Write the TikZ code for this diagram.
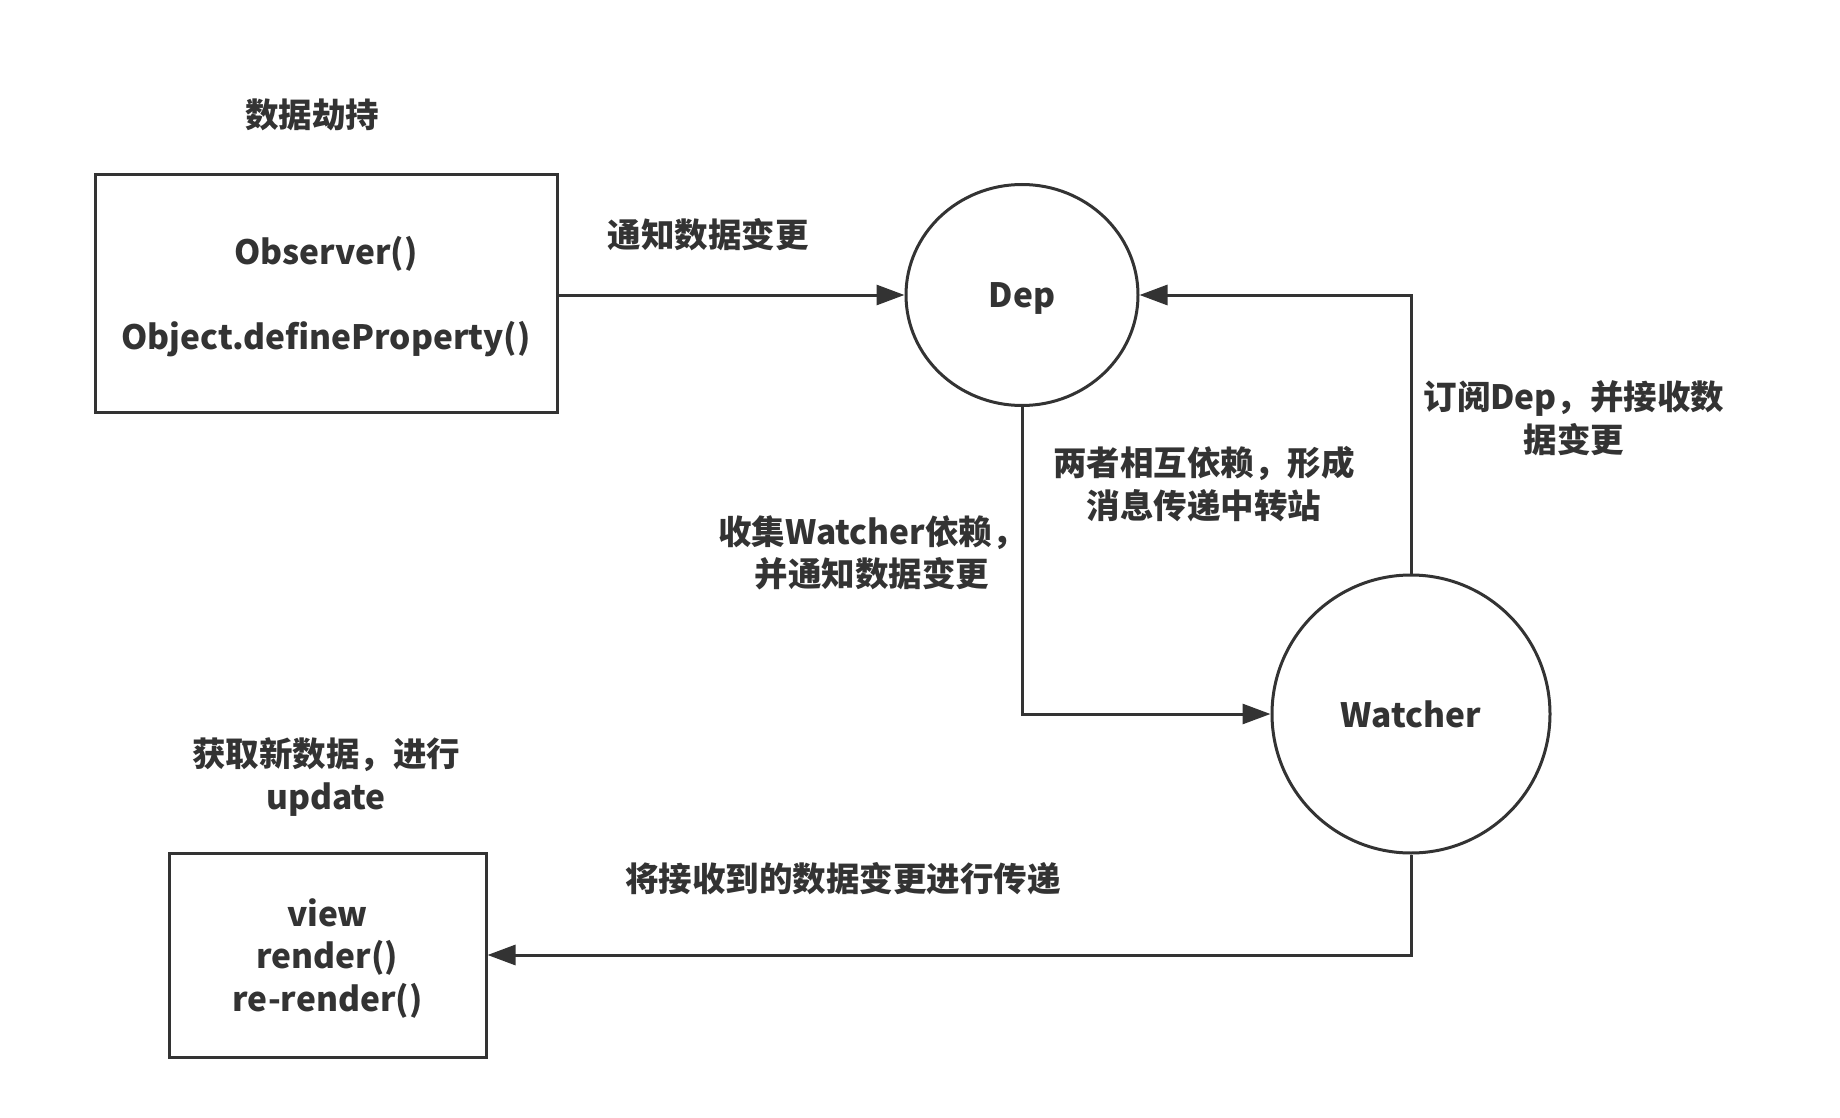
\documentclass[tikz,border=0pt]{standalone}
\usepackage{fontspec}
\setmainfont{Noto Sans CJK SC}
\usetikzlibrary{arrows.meta,shapes.geometric}
\definecolor{ink}{HTML}{333333}
% lower a line of Latin text a little while keeping its box size
\newcommand{\lowline}[1]{\raisebox{-3.5pt}[\height][\depth]{#1}}
\tikzset{
  every node/.style={text=ink,font=\bfseries\fontsize{33.5}{42.5}\selectfont,align=center},
  frame/.style={draw=ink,line width=3pt,inner sep=0pt},
  bubble/.style={draw=ink,line width=3pt,inner sep=0pt},
  link/.style={draw=ink,line width=3pt,-{Triangle[length=28pt,width=20pt]}},
}
\begin{document}
\begin{tikzpicture}[x=1pt,y=-1pt]
\useasboundingbox (0,0) rectangle (1840,1118);

% components
\node (tHijack) at (312,115) {数据劫持};
\node[frame,minimum width=462pt,minimum height=237pt] (obs) at (326,293.5)
  {\lowline{Observer()}\\[42.5pt]\lowline{Object.defineProperty()}};
\node[bubble,ellipse,minimum width=232pt,minimum height=221pt] (dep) at (1022,295) {\lowline{Dep}};
\node[bubble,circle,minimum size=278pt] (watcher) at (1411,714) {Watcher};
\node (tUpdate) at (326,777) {获取新数据，进行\\update};
\node[frame,minimum width=317pt,minimum height=204pt] (view) at (327.5,955)
  {\lowline{view}\\\lowline{render()}\\\lowline{re-render()}};

% connectors
\draw[link] (obs.east |- dep.west) -- (dep.west);
\draw[link] (dep.south) |- (watcher.west);
\draw[link] (watcher.north) |- (dep.east);
\draw[link] (watcher.south) |- (view.east);

% connector labels
\node (lNotify) at (708,235) {通知数据变更};
\node (lSub) at (1574,418) {订阅Dep，并接收数\\据变更};
\node (lHub) at (1204,484) {两者相互依赖，形成\\消息传递中转站};
\node (lCollect) at (872,553) {收集Watcher依赖，\\并通知数据变更};
\node (lPass) at (843,879) {将接收到的数据变更进行传递};
\end{tikzpicture}
\end{document}
